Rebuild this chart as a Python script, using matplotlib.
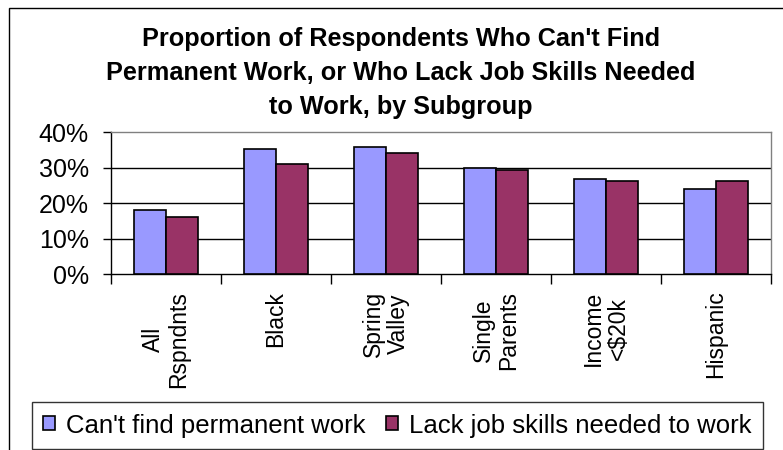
import matplotlib
matplotlib.use("Agg")
import matplotlib.pyplot as plt
import numpy as np
from matplotlib.patches import Rectangle
from matplotlib.ticker import FuncFormatter

plt.rcParams['font.family'] = ['Liberation Sans', 'DejaVu Sans']

# Survey results by subgroup (percent of respondents)
subgroups = ['All\nRspndnts', 'Black', 'Spring\nValley', 'Single\nParents',
             'Income\n<$20k', 'Hispanic']
cant_find_work = [18, 35.2, 35.8, 29.9, 26.8, 23.9]
lack_job_skills = [16.1, 31.1, 34.1, 29.3, 26.3, 26.3]
series_names = ["Can't find permanent work", "Lack job skills needed to work"]
title_lines = ["Proportion of Respondents Who Can't Find",
               "Permanent Work, or Who Lack Job Skills Needed",
               "to Work, by Subgroup"]

blue = '#9999FF'
plum = '#993366'

fig = plt.figure(figsize=(7.83, 4.5), dpi=100)
fig.patch.set_facecolor('white')

# outer chart frame (runs off the right and bottom edges)
fig.add_artist(Rectangle((9 / 783, -0.1), 1.2, 1 - 8 / 450 + 0.1,
                         transform=fig.transFigure, fill=False,
                         edgecolor='black', linewidth=1.0))

for txt, yb in zip(title_lines, [46, 80, 114]):
    fig.text(401 / 783, 1 - yb / 450, txt, ha='center', va='baseline',
             fontsize=18.2, fontweight='bold')

ax = fig.add_axes([111 / 783, 1 - 274 / 450, 660 / 783, 142 / 450])

x = np.arange(len(subgroups))
w = 0.29
ax.bar(x - w / 2, cant_find_work, w, color=blue, edgecolor='black',
       linewidth=1.2, label=series_names[0], zorder=3)
ax.bar(x + w / 2, lack_job_skills, w, color=plum, edgecolor='black',
       linewidth=1.2, label=series_names[1], zorder=3)

ax.set_xlim(-0.5, len(subgroups) - 0.5)
ax.set_ylim(0, 40)
yticks = [0, 10, 20, 30, 40]
ax.set_yticks(yticks)
ax.yaxis.set_major_formatter(FuncFormatter(lambda v, p: f'{v:.0f}%'))
for yv in yticks[1:-1]:
    ax.axhline(yv, color='black', linewidth=1.0, zorder=1)

# category boundaries get tick marks, labels sit at the centres
ax.set_xticks(np.arange(-0.5, len(subgroups)))
ax.set_xticklabels([])
ax.set_xticks(x, minor=True)
ax.set_xticklabels(subgroups, minor=True, rotation=90, fontsize=16.5,
                   va='top', ha='center', multialignment='center',
                   linespacing=1.15)
ax.tick_params(axis='x', which='major', length=7, width=1, direction='out')
ax.tick_params(axis='x', which='minor', length=0, pad=12)
ax.tick_params(axis='y', length=6, width=1, direction='out', pad=10,
               labelsize=18)

for side in ['top', 'right']:
    ax.spines[side].set_color('#808080')
for side in ['left', 'bottom']:
    ax.spines[side].set_color('black')
for sp in ax.spines.values():
    sp.set_linewidth(1.0)

leg = fig.legend(loc='center', bbox_to_anchor=(397.5 / 783, 1 - 425.5 / 450),
                 ncol=2, fontsize=18.5, frameon=True, fancybox=False,
                 borderaxespad=0, handlelength=0.45, handleheight=0.45,
                 handletextpad=0.45, columnspacing=0.8, borderpad=0.45)
leg.get_frame().set_edgecolor('black')
leg.get_frame().set_linewidth(1.0)

fig.savefig('out.png', dpi=100, facecolor='white')
